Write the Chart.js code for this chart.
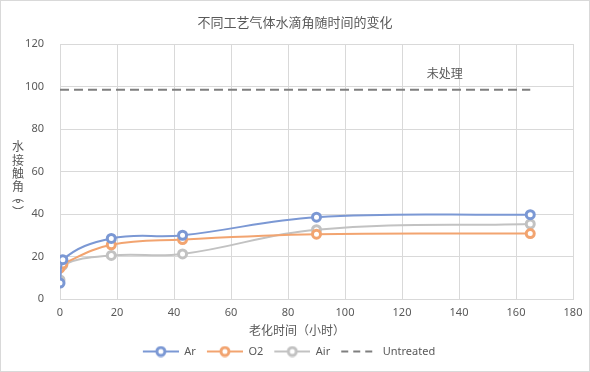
<!DOCTYPE html>
<html>
<head>
<meta charset="utf-8">
<script src="https://cdn.jsdelivr.net/npm/chart.js@4/dist/chart.umd.min.js"></script>
<style>
  body { margin: 0; background: #fff; }
  #wrap { width: 590px; height: 372px; }
</style>
</head>
<body>
<div id="wrap"><canvas id="chart" width="590" height="372"></canvas></div>
<script>
// data
var hours = [0, 1, 18, 43, 90, 165];
var ar = [7.5, 18.5, 28.5, 30, 38.5, 39.7];
var o2 = [14.5, 16.5, 25.5, 28, 30.5, 30.8];
var air = [9, 16, 20.5, 21.2, 32.6, 35.3];
var untreatedHours = [0, 165];
var untreated = [98.5, 98.5];
var xTicks = [0, 20, 40, 60, 80, 100, 120, 140, 160, 180];
var yTicks = [0, 20, 40, 60, 80, 100, 120];

const TEXT = '#595959';
const GRID = '#d9d9d9';
const FONT = "'Noto Sans', 'Noto Sans CJK SC', sans-serif";
const ICON_W = 41;

function pts(xs, ys) {
  return xs.map((x, i) => ({ x: x, y: ys[i] }));
}

// line+marker images for the legend (left part blank = gap between items)
function legendIcon(color, dashed) {
  const c = document.createElement('canvas');
  c.width = ICON_W; c.height = 12;
  const g = c.getContext('2d');
  const x0 = ICON_W - 36;
  g.strokeStyle = color;
  g.lineWidth = 2;
  if (dashed) g.setLineDash([7, 5]);
  g.beginPath(); g.moveTo(x0, 6); g.lineTo(ICON_W, 6); g.stroke();
  if (!dashed) {
    g.setLineDash([]);
    g.fillStyle = '#fff';
    g.lineWidth = 3;
    g.beginPath(); g.arc(x0 + 18, 6, 4, 0, Math.PI * 2); g.fill(); g.stroke();
  }
  return c;
}

function series(label, ys, color) {
  return {
    label: label,
    data: pts(hours, ys),
    borderColor: color,
    backgroundColor: '#fff',
    borderWidth: 2,
    tension: 0.4,
    pointRadius: 4,
    pointBorderWidth: 3,
    pointBackgroundColor: '#fff',
    pointBorderColor: color,
    icon: legendIcon(color, false)
  };
}

const datasets = [
  series('Ar', ar, '#7b98d4'),
  series('O2', o2, '#f2a470'),
  series('Air', air, '#c2c2c2'),
  {
    label: 'Untreated',
    data: pts(untreatedHours, untreated),
    borderColor: '#7f7f7f',
    borderWidth: 2,
    borderDash: [9, 5],
    pointRadius: 0,
    icon: legendIcon('#7f7f7f', true)
  }
];

const extras = {
  id: 'extras',
  afterDraw(chart) {
    const ctx = chart.ctx;
    const xs = chart.scales.x, ys = chart.scales.y;
    ctx.save();
    ctx.fillStyle = TEXT;
    ctx.textAlign = 'center';
    ctx.textBaseline = 'middle';
    // title
    ctx.font = '13px ' + FONT;
    ctx.fillText('不同工艺气体水滴角随时间的变化', 295, 23);
    // x title
    ctx.font = '12px ' + FONT;
    ctx.fillText('老化时间（小时）', 297, 332);
    // y title stacked
    const chars = [['水', 148], ['接', 162], ['触', 175], ['角', 188], ['︵', 198], ['°', 205], ['︶', 214]];
    chars.forEach(c => ctx.fillText(c[0], 18, c[1]));
    // annotation
    ctx.font = '12px ' + FONT;
    ctx.fillText('未处理', xs.getPixelForValue(135), ys.getPixelForValue(105.5));
    // chart border
    ctx.strokeStyle = GRID;
    ctx.lineWidth = 1;
    ctx.strokeRect(0.5, 0.5, 589, 371);
    ctx.restore();
  }
};

new Chart(document.getElementById('chart'), {
  type: 'line',
  data: { datasets: datasets },
  options: {
    responsive: false,
    animation: false,
    layout: { padding: { left: 0, right: 17, top: 44, bottom: 5 } },
    scales: {
      x: {
        type: 'linear',
        min: 0, max: 180,
        afterBuildTicks: s => { s.ticks = xTicks.map(v => ({ value: v })); },
        afterFit: s => { s.height = 41; },
        grid: { color: GRID, drawTicks: false },
        border: { color: GRID },
        ticks: { color: TEXT, font: { size: 11, family: FONT }, padding: 7 }
      },
      y: {
        min: 0, max: 120,
        afterBuildTicks: s => { s.ticks = yTicks.map(v => ({ value: v })); },
        afterFit: s => { s.width = 60; },
        grid: { color: GRID, drawTicks: false },
        border: { color: GRID },
        ticks: { color: TEXT, font: { size: 11, family: FONT }, padding: 16 }
      }
    },
    plugins: {
      legend: {
        position: 'bottom',
        labels: {
          color: TEXT,
          font: { size: 11, family: FONT },
          usePointStyle: true,
          pointStyleWidth: ICON_W,
          boxHeight: 11,
          padding: 6,
          generateLabels: chart => chart.data.datasets.map((d, i) => ({
            text: d.label,
            pointStyle: d.icon,
            fontColor: TEXT,
            lineWidth: 0,
            datasetIndex: i
          }))
        }
      },
      tooltip: { enabled: false }
    }
  },
  plugins: [extras]
});
</script>
</body>
</html>
